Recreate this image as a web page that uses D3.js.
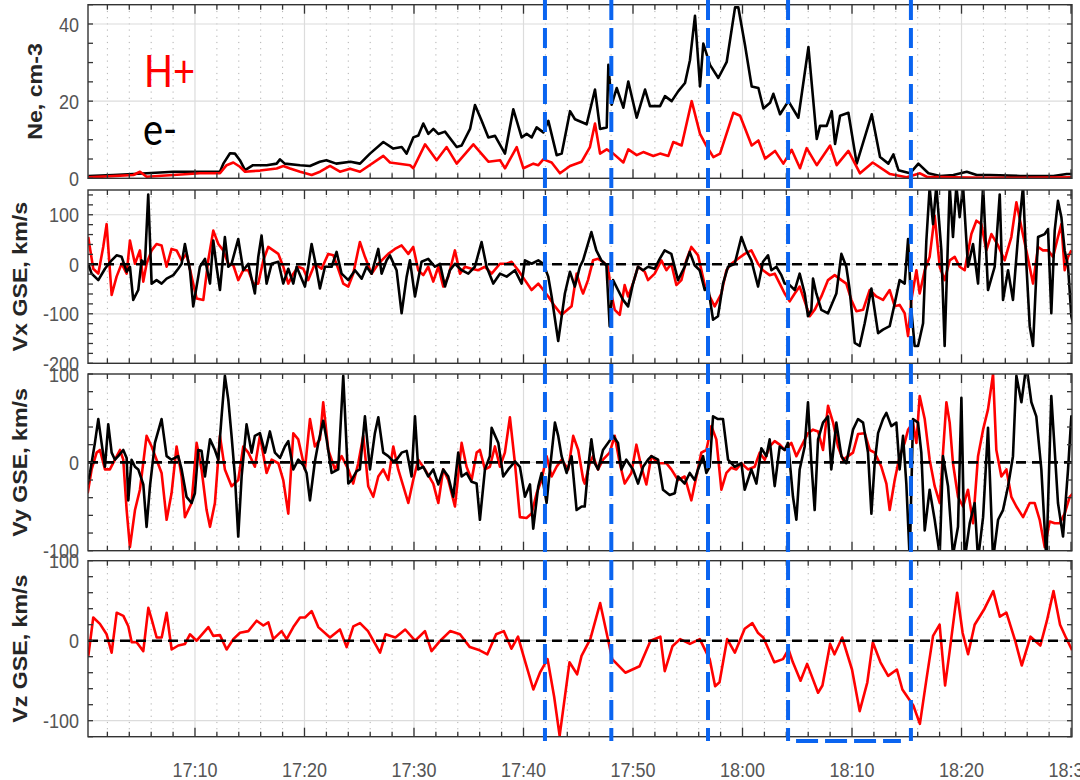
<!DOCTYPE html>
<html>
<head>
<meta charset="utf-8">
<script src="https://cdn.jsdelivr.net/npm/d3@7"></script>
<style>
  body { margin: 0; background: #fff; }
  svg { display: block; }
</style>
</head>
<body>
<svg id="chart" width="1080" height="780"></svg>
<script>
// Times are minutes after 17:00 UT; values in the units of each panel.

const neElectrons = [[0.26,0.6],[2.54,0.85],[4.37,1.1],[8.02,1.7],[10.46,1.7],[12.28,1.7],[12.59,3.8],[13.2,6.5],[13.65,6.4],[14.1,4.7],[14.57,2.1],[15.3,3.4],[16.55,3.4],[17.46,3.8],[17.76,4.9],[18.2,3.8],[19.6,3.4],[20.5,3.2],[21.4,4.3],[22.0,4.7],[22.9,3.8],[24.2,4.3],[25.07,3.8],[25.98,6.4],[27.2,9.4],[28.11,7.7],[28.88,8.1],[29.33,6.4],[29.94,10.6],[30.4,11.1],[30.85,14.2],[31.31,11.5],[31.77,12.8],[32.22,11.5],[32.83,12.1],[33.9,8.1],[34.35,8.5],[35.12,12.8],[35.57,19],[36.18,14.9],[36.79,10.6],[37.4,11],[38.31,6.4],[39.07,17.9],[39.83,10.6],[40.29,11.5],[40.75,10.6],[41.2,13.2],[41.81,11.9],[42.27,14.9],[43.03,6],[43.49,6.4],[44.25,17.4],[44.7,15.3],[45.77,14],[46.53,23],[46.99,12.8],[47.6,13.2],[47.75,29.4],[48.05,19.1],[48.51,23.4],[49.12,18.3],[49.57,25.1],[50.34,15.7],[51.1,23],[51.55,18.7],[52.47,18.7],[52.92,21.3],[53.53,20],[54.14,22.6],[54.75,24.7],[55.2,30.6],[55.66,42.1],[56.12,23.8],[56.42,34.9],[57.03,29.4],[57.79,26],[58.56,30.2],[59.32,44.3],[59.62,44.3],[60.23,34.5],[60.84,23.8],[61.45,23.4],[61.91,18.1],[62.52,19.6],[62.82,21.9],[63.43,16.6],[64.19,20],[65.1,15.7],[66.02,34],[66.78,10.2],[67.08,13.6],[67.69,13.6],[68.15,17.4],[68.45,8.9],[68.91,16.2],[69.67,17],[70.43,3.8],[71.8,16.6],[72.56,5.5],[73.32,3.8],[73.78,6.2],[74.24,2.1],[75.3,1.3],[76.06,3.8],[76.98,1.3],[78.04,0.6],[79.26,0.85],[80.48,1.7],[81.39,0.85],[82.61,0.85],[85.35,0.6],[88.39,0.6],[89.61,1.1],[90.1,1.1]];

const neProtons = [[0.26,0.25],[4.37,0.85],[4.98,1.7],[5.58,0.4],[8.02,0.85],[10.46,1.3],[12.28,1.3],[12.89,3.4],[13.5,4.1],[14.1,3],[14.57,1.7],[15.94,2],[17.46,2.55],[18.07,3.2],[18.68,2.55],[19.6,1.7],[20.66,0.85],[21.42,1.7],[22.33,3.2],[23.24,1.7],[24.16,2.5],[25.07,1.7],[27.2,5.8],[27.81,4.1],[29.64,3.4],[29.94,2.6],[31.01,8.8],[32.07,4.7],[32.98,8.1],[33.9,3.8],[35.42,8.8],[36.79,4.3],[37.85,4.7],[38.31,2.6],[39.38,8.1],[39.99,2.6],[40.9,3.8],[41.36,3.4],[41.81,4.9],[42.57,4.1],[43.33,1.3],[44.25,3.2],[45.31,4.3],[46.07,8.1],[46.53,14.2],[46.99,6.4],[47.6,7.5],[48.2,6.4],[49.12,4.1],[49.57,7.5],[50.34,6],[50.94,6.8],[51.86,5.8],[52.47,6.4],[53.23,5.8],[53.68,9.4],[54.44,8.5],[55.36,20],[56.12,11.5],[56.73,8.3],[57.34,5.5],[57.95,6.4],[59.17,17],[59.78,16.2],[60.84,8.5],[61.45,9.8],[62.06,5.1],[62.97,7.1],[63.73,3.8],[64.49,7.4],[65.25,2.6],[65.86,7.8],[66.78,3.4],[68.0,8.5],[68.6,3.4],[69.67,7.1],[70.73,1.3],[71.89,4.1],[73.47,1.1],[74.99,0.25],[76.21,1.3],[76.82,0.4],[79.26,0.25],[82.3,0.1],[85.35,0.1],[90.06,0.25]];

const vxElectrons = [[0.25,1],[0.56,-19],[1.17,-32],[1.78,-9],[2.39,8],[2.84,18],[3.30,15],[3.76,-15],[4.06,-5],[4.36,-72],[4.82,-52],[5.12,8],[5.43,1],[5.73,141],[6.04,-39],[6.49,-32],[6.95,-39],[7.41,-29],[8.02,-22],[8.47,-9],[8.78,1],[9.08,41],[9.54,-12],[9.84,-85],[10.45,-5],[10.91,11],[11.37,-39],[11.67,48],[11.97,-5],[12.28,-52],[12.73,55],[13.04,-5],[13.34,1],[13.95,51],[14.41,-12],[14.87,1],[15.47,-59],[15.78,15],[16.08,58],[16.54,-39],[17.00,1],[17.61,5],[18.06,-39],[18.52,-9],[18.98,-39],[19.28,-5],[20.04,-45],[20.34,-5],[20.65,41],[20.95,8],[21.41,-49],[21.87,-5],[22.48,-5],[22.93,25],[23.39,-19],[24.00,-32],[24.61,-12],[25.22,-29],[25.67,-5],[26.13,-19],[26.74,31],[27.04,-19],[27.50,8],[27.80,18],[28.41,-12],[28.87,-99],[29.33,-25],[29.63,8],[30.09,-65],[30.69,5],[31.30,11],[31.91,-5],[32.37,1],[32.83,-45],[33.28,-12],[33.74,1],[34.35,-12],[34.96,-19],[35.56,-5],[36.17,45],[36.63,-5],[37.24,-39],[37.85,-19],[38.46,-25],[39.22,-12],[39.83,-39],[40.13,8],[40.74,1],[41.35,8],[41.81,1],[42.26,-25],[42.57,-65],[43.17,-155],[43.78,-59],[44.24,-15],[44.69,-45],[45.15,-5],[45.44,8],[46.20,65],[46.65,28],[47.11,8],[47.57,-2],[47.87,-125],[48.18,-32],[48.63,-52],[49.09,-72],[49.55,-85],[50.00,-39],[50.46,-5],[50.92,-12],[51.37,-5],[51.98,-9],[52.44,11],[52.89,28],[53.50,21],[54.11,-32],[54.72,-5],[55.18,25],[55.63,-2],[56.09,-12],[56.55,-52],[56.85,-45],[57.31,-112],[57.76,-105],[58.22,-39],[58.68,-5],[59.29,1],[59.90,55],[60.35,28],[60.81,8],[61.42,-45],[61.87,5],[62.33,18],[62.64,-12],[63.09,-5],[63.55,-22],[63.85,-39],[64.31,-42],[64.77,-52],[65.22,-19],[65.68,-59],[65.98,-105],[66.29,-92],[66.44,-29],[66.74,-59],[67.20,-92],[67.81,-99],[68.57,-59],[69.03,21],[69.48,-5],[69.79,-52],[70.25,-159],[70.70,-165],[71.16,-119],[71.77,-49],[72.38,-139],[72.83,-132],[73.44,-125],[73.90,-79],[74.35,-32],[74.81,-39],[75.12,51],[75.42,-92],[75.72,-165],[76.03,-165],[76.49,-119],[76.79,48],[77.09,155],[77.40,81],[77.70,158],[78.16,28],[78.46,-165],[78.92,158],[79.22,55],[79.53,158],[79.83,95],[80.14,158],[80.59,-5],[81.05,41],[81.51,-39],[81.97,158],[82.42,-52],[83.03,-5],[83.49,141],[83.79,-72],[84.25,-12],[84.70,-72],[85.16,55],[85.62,158],[85.92,1],[86.23,-125],[86.53,-165],[86.99,55],[87.60,61],[87.90,71],[88.20,-99],[88.51,68],[88.81,128],[89.12,95],[89.42,28],[89.73,-5],[90.03,-105],[90.34,-132]];

const vxProtons = [[0.25,55],[0.71,-9],[1.17,-19],[1.62,35],[1.93,81],[2.39,-62],[2.84,-25],[3.30,1],[3.76,-19],[4.06,48],[4.52,1],[4.97,28],[5.28,-35],[5.58,1],[6.04,28],[6.49,41],[6.95,38],[7.41,-5],[7.86,31],[8.32,28],[8.78,8],[9.23,21],[9.69,-25],[10.15,-69],[10.76,-72],[11.21,8],[11.67,68],[12.13,41],[12.58,28],[13.04,1],[13.50,-2],[13.95,-32],[14.41,-12],[14.87,-12],[15.32,-39],[15.78,-39],[16.24,8],[16.69,35],[17.15,28],[17.61,21],[18.06,-5],[18.52,-39],[18.98,-19],[19.43,-5],[19.89,-9],[20.34,-32],[20.95,1],[21.56,-9],[22.17,21],[22.63,18],[23.08,-9],[23.54,-39],[24.00,-45],[24.45,-19],[25.06,45],[25.52,15],[26.13,-19],[26.74,1],[27.19,11],[27.65,21],[28.26,31],[28.87,38],[29.48,21],[29.93,35],[30.39,-12],[30.85,-22],[31.30,-5],[31.76,-35],[32.22,-5],[32.67,-45],[33.13,-25],[33.74,28],[34.20,-19],[34.65,-5],[35.26,-9],[35.87,-12],[36.48,-5],[37.09,-19],[37.85,1],[38.46,1],[38.91,5],[39.52,-12],[40.13,-32],[40.74,-52],[41.35,-39],[41.81,-52],[42.26,-65],[42.87,-85],[43.48,-102],[44.39,-85],[44.85,-19],[45.31,-52],[45.44,-59],[45.89,-32],[46.35,8],[46.81,11],[47.26,5],[47.72,-5],[48.02,-59],[48.33,-92],[48.79,-102],[49.24,-42],[49.55,-65],[50.00,-39],[50.46,-5],[51.07,-15],[51.37,-32],[51.98,-19],[52.59,8],[53.05,-12],[53.50,1],[53.96,-42],[54.42,-32],[54.87,8],[55.33,35],[55.94,18],[56.55,-42],[57.00,-65],[57.46,-85],[58.07,-59],[58.53,-12],[58.98,1],[59.59,11],[60.20,21],[60.81,28],[61.42,1],[61.87,-12],[62.48,-22],[62.94,-19],[63.40,-39],[63.85,-59],[64.31,-75],[64.77,-59],[65.22,-45],[65.68,-75],[66.14,-105],[66.59,-92],[67.20,-65],[67.81,-32],[68.42,-22],[69.03,-32],[69.48,-39],[69.94,-72],[70.40,-95],[71.01,-92],[71.62,-52],[72.22,-65],[72.83,-72],[73.44,-52],[73.90,-85],[74.35,-82],[74.81,-99],[75.12,-145],[75.42,-72],[75.88,-12],[76.18,-59],[76.64,-12],[77.09,15],[77.55,98],[78.01,-5],[78.46,-32],[78.92,8],[79.38,15],[79.83,-5],[80.29,-12],[80.90,61],[81.36,88],[81.81,81],[82.27,28],[82.73,61],[83.34,38],[83.94,8],[84.55,55],[85.01,125],[85.47,75],[85.92,28],[86.53,-39],[86.99,35],[87.44,28],[87.90,28],[88.36,15],[88.81,55],[89.12,81],[89.42,-12],[89.73,15],[90.03,28]];

const vyElectrons = [[0.2,-25],[0.41,-12],[0.86,22],[1.17,49],[1.47,22],[1.78,-5],[2.08,43],[2.39,11],[2.69,3],[2.99,7],[3.45,14],[3.76,5],[3.91,-43],[4.21,3],[4.52,-5],[4.82,-8],[5.28,-25],[5.58,-73],[5.89,-27],[6.34,22],[6.95,49],[7.41,7],[7.86,3],[8.47,7],[8.78,-8],[9.23,-39],[9.69,-46],[9.99,-35],[10.30,14],[10.60,13],[10.91,-16],[11.37,26],[11.82,14],[12.13,3],[12.43,52],[12.73,98],[13.04,71],[13.34,30],[13.65,-16],[13.95,-84],[14.26,-16],[14.71,43],[15.17,11],[15.47,30],[15.93,33],[16.39,11],[16.84,35],[17.30,11],[17.76,5],[18.21,18],[18.52,24],[18.98,-8],[19.43,3],[19.89,-3],[20.19,-12],[20.50,-43],[20.95,1],[21.26,22],[21.71,47],[22.02,26],[22.48,-12],[23.08,-8],[23.54,98],[24.00,-24],[24.30,-20],[24.76,-10],[25.06,-8],[25.52,52],[25.98,-8],[26.43,33],[26.74,51],[27.19,11],[27.65,7],[28.11,1],[28.41,3],[28.87,11],[29.33,13],[29.78,-16],[30.09,52],[30.39,-8],[30.85,-5],[31.30,-16],[31.76,-8],[32.22,-25],[32.67,-8],[33.13,-16],[33.59,-39],[34.04,11],[34.35,-16],[34.80,-12],[35.26,-22],[35.72,-24],[36.02,-65],[36.48,-8],[36.93,7],[37.09,39],[37.70,22],[38.15,-16],[38.61,-8],[39.22,1],[39.67,-5],[40.13,-39],[40.59,-25],[40.89,-75],[41.35,-27],[41.65,-12],[42.11,-46],[42.41,-8],[42.87,45],[43.17,30],[43.48,7],[43.94,-12],[44.39,7],[44.85,-54],[45.31,-50],[45.59,-50],[45.89,-8],[46.20,26],[46.50,-1],[46.81,-8],[47.26,14],[47.72,22],[48.18,30],[48.63,22],[48.94,-8],[49.39,3],[50.00,-8],[50.46,-24],[50.92,-5],[51.37,3],[51.68,7],[52.29,3],[52.74,-31],[53.35,-37],[53.81,-35],[54.11,-16],[54.72,-24],[55.18,-12],[55.63,-20],[55.94,-8],[56.40,7],[56.70,-12],[57.00,-5],[57.31,52],[57.76,49],[58.22,49],[58.68,3],[59.29,-5],[59.90,-1],[60.20,-31],[60.81,-8],[61.27,-24],[61.72,16],[62.18,7],[62.48,26],[62.94,-27],[63.40,18],[63.85,14],[64.16,22],[64.61,-39],[64.92,-65],[65.22,-8],[65.68,18],[65.98,68],[66.29,-1],[66.59,-54],[66.90,26],[67.35,45],[67.81,52],[68.11,-8],[68.57,45],[69.03,7],[69.48,-1],[70.09,37],[70.55,49],[71.01,45],[71.46,11],[71.77,-58],[72.07,-1],[72.38,33],[72.83,49],[73.14,56],[73.59,41],[74.05,45],[74.35,-8],[74.66,30],[74.96,-24],[75.27,-110],[75.57,49],[76.03,45],[76.33,11],[76.64,-77],[77.09,-31],[77.55,-65],[78.01,-105],[78.31,7],[78.77,-27],[79.22,-105],[79.68,-73],[79.99,73],[80.29,-110],[80.75,-69],[81.20,-46],[81.51,-110],[81.97,-62],[82.42,39],[82.88,-110],[83.34,-65],[83.79,-54],[84.25,-27],[84.70,7],[85.01,98],[85.47,68],[85.92,110],[86.38,68],[86.83,52],[87.29,-8],[87.75,-110],[88.20,75],[88.51,14],[88.81,-46],[89.27,-84],[89.73,-8],[90.03,52],[90.2,40]];

const vyProtons = [[0.2,-35],[0.56,-8],[1.02,11],[1.32,14],[1.78,-8],[2.23,-8],[2.69,3],[3.15,14],[3.45,3],[3.76,-54],[4.06,-96],[4.52,-54],[4.97,-31],[5.58,30],[6.04,18],[6.49,3],[6.95,-12],[7.41,-65],[7.86,-35],[8.32,18],[8.78,-16],[9.08,-62],[9.69,-46],[10.15,22],[10.60,-8],[11.06,-54],[11.37,-73],[11.82,-46],[12.28,30],[12.73,-8],[13.34,-27],[13.95,-20],[14.41,18],[14.87,11],[15.47,-5],[15.93,30],[16.54,-12],[17.00,3],[17.61,-1],[18.06,-20],[18.52,-58],[18.98,33],[19.43,26],[20.04,-8],[20.50,49],[20.95,18],[21.41,26],[21.71,68],[22.17,14],[22.78,-8],[23.39,7],[24.00,-8],[24.45,-24],[24.91,-1],[25.37,30],[25.82,-27],[26.28,-39],[26.74,-16],[27.19,-8],[27.65,-20],[28.11,18],[28.56,-8],[29.02,-27],[29.48,-46],[29.93,-20],[30.39,3],[31.00,-8],[31.76,-24],[32.22,-46],[32.67,-8],[33.13,-20],[33.74,-50],[34.35,22],[34.80,-5],[35.26,-20],[35.72,11],[36.02,14],[36.48,-8],[36.93,-5],[37.39,18],[37.85,-5],[38.30,11],[38.76,51],[39.22,-1],[39.67,-62],[40.28,-63],[40.74,-58],[41.20,-35],[41.65,-20],[42.11,7],[42.57,-16],[43.02,-5],[43.48,3],[44.09,-8],[44.54,30],[45.00,14],[45.46,-20],[45.59,-24],[46.05,-1],[46.35,7],[46.81,-8],[47.26,3],[47.87,11],[48.33,30],[48.79,-1],[49.24,-24],[49.85,-12],[50.31,20],[50.76,-5],[51.22,-25],[51.68,7],[52.29,-1],[53.05,-1],[53.50,-8],[54.11,-20],[54.72,-16],[55.33,-43],[55.79,-16],[56.24,11],[56.70,14],[57.16,41],[57.61,26],[58.07,-31],[58.53,-12],[58.98,-6],[59.44,-8],[59.90,-1],[60.50,-8],[61.11,-5],[61.57,11],[62.03,3],[62.48,18],[62.94,24],[63.40,20],[63.85,14],[64.46,22],[64.92,7],[65.37,18],[65.98,33],[66.44,37],[66.90,35],[67.35,14],[67.81,64],[68.27,45],[68.72,18],[69.18,3],[69.64,7],[70.09,11],[70.55,32],[71.16,33],[71.62,14],[72.07,11],[72.68,-5],[73.14,-24],[73.44,-54],[73.90,-20],[74.35,7],[74.81,22],[75.12,37],[75.57,45],[75.88,22],[76.18,75],[76.64,49],[77.09,3],[77.55,-27],[78.01,-46],[78.31,11],[78.62,68],[78.92,45],[79.22,-1],[79.68,-39],[80.14,-50],[80.59,-31],[81.05,-69],[81.51,7],[81.97,37],[82.42,60],[82.88,100],[83.18,14],[83.64,-16],[84.10,-8],[84.55,-39],[85.01,-50],[85.62,-62],[86.23,-46],[86.68,-46],[87.14,-65],[87.60,-96],[88.05,-67],[88.51,-69],[88.97,-69],[89.42,-58],[89.88,-39],[90.18,-35]];

const vzProtons = [[0.26,-19],[0.71,29],[1.32,21],[1.93,8],[2.39,-15],[2.85,35],[3.46,31],[3.91,18],[4.22,-2],[4.67,-2],[5.28,-13],[5.74,41],[6.04,27],[6.5,4],[6.96,4],[7.41,35],[7.87,-11],[8.48,-6],[9.09,-4],[9.54,8],[10.15,0],[11.22,17],[11.67,6],[12.28,7],[12.89,-11],[13.5,2],[14.11,10],[14.87,12],[15.63,25],[16.24,19],[16.7,23],[17.15,2],[17.91,12],[18.37,2],[18.98,17],[19.59,29],[20.05,29],[20.65,37],[21.26,17],[22.33,4],[23.24,14],[23.85,-8],[24.46,18],[25.07,22],[25.8,12],[26.9,-15],[27.4,8],[28.3,4],[29.2,14],[30.1,0],[31.0,12],[31.6,-13],[32.4,0],[33.3,12],[34.2,8],[35.1,-8],[36.0,-12],[36.7,-17],[37.5,8],[38.2,12],[38.9,-10],[39.5,5],[40.0,-19],[40.9,-61],[41.5,-40],[42.2,-23],[42.8,-70],[43.3,-119],[44.2,-27],[44.9,-42],[45.3,-19],[46.1,2],[47.0,47],[48.1,-23],[49.3,-40],[50.6,-32],[51.6,0],[52.5,5],[52.9,-38],[53.6,-7],[54.3,2],[55.2,-4],[56.1,2],[57.0,-23],[57.5,-57],[57.9,-52],[58.6,2],[59.3,-15],[60.2,15],[60.9,22],[61.4,10],[61.9,4],[62.9,-27],[63.7,-23],[64.2,-11],[64.6,-27],[65.3,-50],[65.9,-29],[66.9,-65],[67.3,-56],[68.0,-4],[68.4,-17],[69.1,4],[70.0,-36],[70.7,-88],[71.4,-52],[71.9,-2],[72.6,-27],[73.3,-44],[74.1,-36],[74.6,-61],[75.1,-71],[75.6,-81],[76.2,-104],[76.8,-48],[77.4,6],[78.0,20],[78.5,-56],[78.9,-15],[79.6,60],[80.1,10],[80.6,-17],[81.2,20],[82.1,40],[82.9,62],[83.5,30],[84.1,35],[84.9,0],[85.5,-31],[86.3,5],[87.2,-6],[87.8,25],[88.4,62],[89.0,20],[89.5,5],[90.1,-12]];

// Panel settings
const panelTitles = ["Ne, cm-3", "Vx GSE, km/s", "Vy GSE, km/s", "Vz GSE, km/s"];
const yDomains = [[0, 45], [-200, 150], [-100, 100], [-120, 100]];
const yLabelTicks = [[0, 20, 40], [-200, -100, 0, 100], [-100, 0, 100], [-100, 0, 100]];
const yMinorSteps = [5, 20, 20, 20];
const timeWindow = [0.23, 90.09];            // minutes after 17:00
const eventTimes = [41.96, 48.02, 56.85, 64.16, 75.38];   // blue markers
const speciesLabels = ["H+", "e-"];

const base = Date.UTC(2019, 0, 1, 17, 0, 0);
const toDate = m => new Date(base + m * 60000);

const svg = d3.select("#chart");
const plotLeft = 88, plotRight = 1072;
const TXT_STRETCH = 1.16;
const tickFont = "'Liberation Sans', Arial, sans-serif";

const x = d3.scaleUtc()
  .domain([toDate(timeWindow[0]), toDate(timeWindow[1])])
  .range([plotLeft, plotRight]);

const majorTimes = x.ticks(d3.utcMinute.every(10));
const minorTimes = x.ticks(d3.utcMinute.every(2)).filter(d => d.getUTCMinutes() % 10 !== 0);
const fmt = d3.utcFormat("%H:%M");

const panels = [
  { top: 4.7,   bottom: 178.3, titleX: 42, zero: false,
    series: [{ data: neElectrons, color: "#000" }, { data: neProtons, color: "#ff0000" }] },
  { top: 190,   bottom: 363.3, titleX: 27, zero: true,
    series: [{ data: vxProtons, color: "#ff0000" }, { data: vxElectrons, color: "#000" }] },
  { top: 374,   bottom: 550.7, titleX: 27, zero: true,
    series: [{ data: vyProtons, color: "#ff0000" }, { data: vyElectrons, color: "#000" }] },
  { top: 560.7, bottom: 736.7, titleX: 27, zero: true,
    series: [{ data: vzProtons, color: "#ff0000" }] }
];

const defs = svg.append("defs");

panels.forEach((p, i) => {
  const domain = yDomains[i];
  const y = d3.scaleLinear().domain(domain).range([p.bottom, p.top]);
  const g = svg.append("g").attr("class", "panel");
  const clipId = "clip" + i;
  defs.append("clipPath").attr("id", clipId)
    .append("rect").attr("x", plotLeft).attr("y", p.top)
    .attr("width", plotRight - plotLeft).attr("height", p.bottom - p.top);

  // minor dotted vertical grid
  g.selectAll(".vminor").data(minorTimes).join("line")
    .attr("x1", d => x(d)).attr("x2", d => x(d))
    .attr("y1", p.top).attr("y2", p.bottom)
    .attr("stroke", "#b0b0b0").attr("stroke-width", 1)
    .attr("stroke-dasharray", "1.2,5");
  // major solid vertical grid
  g.selectAll(".vmajor").data(majorTimes).join("line")
    .attr("x1", d => x(d)).attr("x2", d => x(d))
    .attr("y1", p.top).attr("y2", p.bottom)
    .attr("stroke", "#dcdcdc").attr("stroke-width", 1.2);
  // horizontal grid at labelled values
  const hGrid = yLabelTicks[i].filter(v => y(v) > p.top + 1 && y(v) < p.bottom - 1);
  g.selectAll(".hgrid").data(hGrid).join("line")
    .attr("x1", plotLeft).attr("x2", plotRight)
    .attr("y1", d => y(d)).attr("y2", d => y(d))
    .attr("stroke", "#dcdcdc").attr("stroke-width", 1.2);

  // data lines
  const line = d3.line().x(d => x(toDate(d[0]))).y(d => y(d[1]));
  const dg = g.append("g").attr("clip-path", `url(#${clipId})`);
  p.series.forEach(s => {
    dg.append("path").datum(s.data)
      .attr("d", line)
      .attr("fill", "none")
      .attr("stroke", s.color)
      .attr("stroke-width", 2.6)
      .attr("stroke-linejoin", "round");
  });

  // zero reference
  if (p.zero) {
    dg.append("line")
      .attr("x1", plotLeft).attr("x2", plotRight)
      .attr("y1", y(0)).attr("y2", y(0))
      .attr("stroke", "#000").attr("stroke-width", 2.6)
      .attr("stroke-dasharray", "10,6");
  }

  // frame
  g.append("rect")
    .attr("x", plotLeft).attr("y", p.top)
    .attr("width", plotRight - plotLeft).attr("height", p.bottom - p.top)
    .attr("fill", "none").attr("stroke", "#333").attr("stroke-width", 1.4);

  // x ticks on top and bottom (inward)
  const xt = [...majorTimes.map(d => ({ d, len: 9 })), ...minorTimes.map(d => ({ d, len: 5 }))];
  g.selectAll(".xtb").data(xt).join("line")
    .attr("x1", t => x(t.d)).attr("x2", t => x(t.d))
    .attr("y1", p.bottom).attr("y2", t => p.bottom - t.len)
    .attr("stroke", "#333").attr("stroke-width", 1.3);
  g.selectAll(".xtt").data(xt).join("line")
    .attr("x1", t => x(t.d)).attr("x2", t => x(t.d))
    .attr("y1", p.top).attr("y2", t => p.top + t.len)
    .attr("stroke", "#333").attr("stroke-width", 1.3);

  // y ticks on left and right
  const step = yMinorSteps[i];
  const yMinor = d3.range(Math.ceil(domain[0] / step) * step, domain[1] + 1e-9, step);
  g.selectAll(".ytl").data(yMinor).join("line")
    .attr("x1", plotLeft).attr("x2", plotLeft + 5)
    .attr("y1", d => y(d)).attr("y2", d => y(d))
    .attr("stroke", "#333").attr("stroke-width", 1.3);
  g.selectAll(".ytr").data(yMinor).join("line")
    .attr("x1", plotRight).attr("x2", plotRight - 5)
    .attr("y1", d => y(d)).attr("y2", d => y(d))
    .attr("stroke", "#333").attr("stroke-width", 1.3);

  // y tick labels
  g.selectAll(".ylab").data(yLabelTicks[i]).join("text")
    .attr("transform", d => `translate(79,${y(d)}) scale(1,${TXT_STRETCH})`)
    .attr("dy", "0.36em")
    .attr("text-anchor", "end")
    .attr("font-family", tickFont).attr("font-size", 18)
    .attr("fill", "#555")
    .text(d => d);

  // y axis title
  g.append("text")
    .attr("transform", `translate(${p.titleX},${(p.top + p.bottom) / 2}) rotate(-90) scale(${TXT_STRETCH},1)`)
    .attr("text-anchor", "middle")
    .attr("font-family", tickFont).attr("font-size", 20).attr("font-weight", "bold")
    .attr("fill", "#262626")
    .text(panelTitles[i]);
});

// time labels under the last panel
svg.selectAll(".xlab").data(majorTimes).join("text")
  .attr("transform", d => `translate(${x(d)},777) scale(1,${TXT_STRETCH})`)
  .attr("text-anchor", "middle")
  .attr("font-family", tickFont).attr("font-size", 18)
  .attr("fill", "#555")
  .text(d => fmt(d));

// partially hidden label fragment below the last panel
defs.append("clipPath").attr("id", "fragClip")
  .append("rect").attr("x", 40).attr("y", 746.5).attr("width", 40).attr("height", 8);
svg.append("text")
  .attr("clip-path", "url(#fragClip)")
  .attr("transform", `translate(59,751.5) scale(1,${TXT_STRETCH})`)
  .attr("text-anchor", "middle")
  .attr("font-family", tickFont).attr("font-size", 18)
  .attr("fill", "#555")
  .text("0");

// species labels
svg.append("text")
  .attr("transform", `translate(144,87) scale(1,${TXT_STRETCH})`)
  .attr("font-family", "Lato, 'Open Sans', sans-serif").attr("font-size", 38)
  .attr("fill", "#ff0000")
  .text(speciesLabels[0]);
svg.append("text")
  .attr("transform", `translate(143,145) scale(1,${TXT_STRETCH})`)
  .attr("font-family", "Lato, 'Open Sans', sans-serif").attr("font-size", 38)
  .attr("fill", "#000")
  .text(speciesLabels[1]);

// event markers
const blue = "#0a64f0";
svg.selectAll(".event").data(eventTimes).join("line")
  .attr("x1", d => x(toDate(d))).attr("x2", d => x(toDate(d)))
  .attr("y1", 0).attr("y2", 741)
  .attr("stroke", blue).attr("stroke-width", 4)
  .attr("stroke-dasharray", "20,8");
svg.append("line")
  .attr("x1", x(toDate(eventTimes[3])) + 8).attr("x2", x(toDate(eventTimes[4])) - 10)
  .attr("y1", 741).attr("y2", 741)
  .attr("stroke", blue).attr("stroke-width", 4)
  .attr("stroke-dasharray", "22,7");
</script>
</body>
</html>
